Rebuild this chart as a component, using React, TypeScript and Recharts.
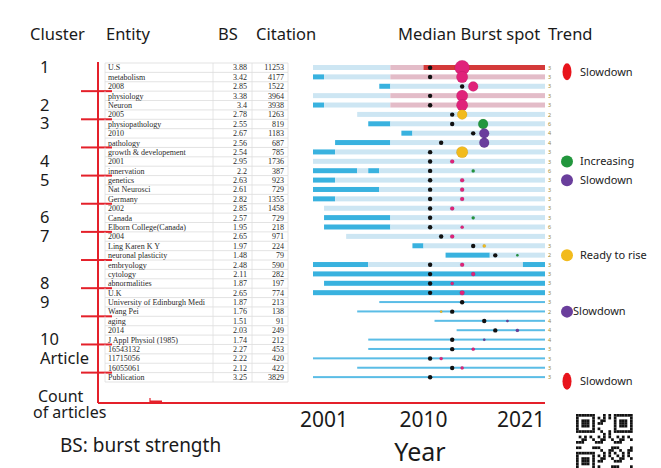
import React from 'react';
import { ComposedChart, Bar, Line, XAxis, YAxis } from 'recharts';

// table rows (top to bottom)
const entities = [
  'U.S', 'metabolism', '2008', 'physiology', 'Neuron', '2005', 'physiopathology', '2010', 'pathology',
  'growth & developement', '2001', 'innervation', 'genetics', 'Nat Neurosci', 'Germany', '2002', 'Canada',
  'Elborn College(Canada)', '2004', 'Ling Karen K Y', 'neuronal plasticity', 'embryology', 'cytology',
  'abnormalities', 'U.K', 'University of Edinburgh Medi', 'Wang Pei', 'aging', '2014', 'J Appl Physiol (1985)',
  '16543132', '11715056', '16055061', 'Publication',
];
const burstStrength = [
  3.88, 3.42, 2.85, 3.38, 3.4, 2.78, 2.55, 2.67, 2.56, 2.54, 2.95, 2.2, 2.63, 2.61, 2.82, 2.85, 2.57,
  1.95, 2.65, 1.97, 1.48, 2.48, 2.11, 1.87, 2.65, 1.87, 1.76, 1.51, 2.03, 1.74, 2.27, 2.22, 2.12, 3.25,
];
const citations = [
  11253, 4177, 1522, 3964, 3938, 1263, 819, 1183, 687, 785, 1736, 387, 923, 729, 1355, 1458, 729,
  218, 971, 224, 79, 590, 282, 197, 774, 213, 138, 91, 249, 212, 453, 420, 422, 3829,
];

// timeline per row
const spanStart = [
  2000, 2000, 2006, 2000, 2000, 2004, 2005, 2008, 2002, 2000, 2000, 2000, 2000, 2000, 2000, 2001, 2001,
  2001, 2003, 2009, 2012, 2000, 2000, 2001, 2000, 2006, 2004, 2011, 2013, 2005, 2005, 2000, 2004, 2000,
];
const burstPeriods: [number, number][][] = [
  [], [[2000, 2001]], [[2006, 2007]], [], [[2000, 2001]], [], [[2005, 2007]], [[2008, 2009]], [[2002, 2007]],
  [[2000, 2002]], [], [[2000, 2004], [2005, 2006]], [[2000, 2002]], [[2000, 2006]], [[2000, 2002]], [],
  [[2001, 2007]], [[2001, 2007]], [], [[2009, 2010]], [[2012, 2016]], [[2000, 2005], [2019, 2021]],
  [[2000, 2021]], [[2001, 2021]], [[2000, 2021]], [], [], [], [], [], [], [], [], [],
];
const tintFrom = [2007, 2007, null, 2007, 2007, null, null, null, null, null, null, null, null, null, null, null, null,
  null, null, null, null, null, null, null, null, null, null, null, null, null, null, null, null, null];
const hotFrom = [2010, null, null, null, null, null, null, null, null, null, null, null, null, null, null, null, null,
  null, null, null, null, null, null, null, null, null, null, null, null, null, null, null, null, null];
const lineOnly = [
  false, false, false, false, false, false, false, false, false, false, false, false, false, false, false, false, false,
  false, false, false, false, false, false, false, false, true, true, true, true, true, true, true, true, true,
];
const medianYear = [
  2010.6, 2010.6, 2013.5, 2010.6, 2010.6, 2012.6, 2012.6, 2014.5, 2011.6, 2010.6, 2010.6, 2010.6, 2010.6, 2010.6,
  2010.6, 2010.6, 2010.6, 2010.6, 2011.6, 2014.5, 2016.5, 2010.6, 2010.6, 2010.6, 2010.6, 2013.5, 2012.6, 2015.5,
  2016.5, 2012.6, 2012.6, 2010.6, 2012.6, 2010.6,
];
const spotYear = [
  2013.5, 2013.5, 2014.5, 2013.5, 2013.5, 2013.5, 2015.4, 2015.5, 2015.5, 2013.5, 2012.6, 2014.5, 2013.5, 2013.5,
  2013.5, 2012.6, 2014.5, 2013.5, 2012.6, 2015.5, 2018.5, 2013.5, 2014.5, 2012.6, 2013.5, 2013.5, 2011.6, 2017.6,
  2018.5, 2015.5, 2014.5, 2011.6, 2013.5, null,
];
const spotTrend = [
  'slow', 'slow', 'slow', 'slow', 'slow', 'rise', 'up', 'wane', 'wane', 'rise', 'slow', 'up', 'slow', 'slow',
  'slow', 'slow', 'up', 'slow', 'slow', 'rise', 'up', 'slow', 'slow', 'slow', 'slow', 'slow', 'rise', 'wane',
  'wane', 'wane', 'slow', 'slow', 'slow', null,
];
const spotWeight = [
  9, 7, 6, 7, 7, 6, 6, 6, 6, 7, 2.5, 2, 2.5, 2.5, 2.5, 2.5, 2, 2, 2.5, 2, 1.5, 2.5, 2.5, 2, 3, 2, 1.5, 1.5,
  2, 1.5, 2, 2, 2, 0,
];
const sliceMarks = [3, 3, 3, 3, 3, 2, 6, 4, 4, 3, 3, 6, 3, 3, 3, 3, 3, 6, 3, 3, 2, 3, 3, 3, 3, 3, 2, 4, 4, 4, 3, 3, 3, 3];

const clusters = [
  { name: '1', first: 0, last: 2, labelRow: 0 },
  { name: '2', first: 3, last: 5, labelRow: 4 },
  { name: '3', first: 6, last: 8, labelRow: 6 },
  { name: '4', first: 9, last: 11, labelRow: 10 },
  { name: '5', first: 12, last: 14, labelRow: 12 },
  { name: '6', first: 15, last: 17, labelRow: 16 },
  { name: '7', first: 18, last: 20, labelRow: 18 },
  { name: '8', first: 21, last: 23, labelRow: 23 },
  { name: '9', first: 24, last: 26, labelRow: 25 },
  { name: '10', first: 27, last: 29, labelRow: 29 },
  { name: 'Article', first: 30, last: 32, labelRow: 31 },
];
const trendLegend = [
  { row: 0, trend: 'hot', text: 'Slowdown' },
  { row: 10, trend: 'up', text: 'Increasing' },
  { row: 12, trend: 'wane', text: 'Slowdown' },
  { row: 20, trend: 'rise', text: 'Ready to rise' },
  { row: 26, trend: 'wane', text: 'Slowdown' },
  { row: 33, trend: 'hot', text: 'Slowdown' },
];

const yearDomain = [2000, 2021];
const yearTicks = [2001, 2010, 2021];

const CHART_W = 661;
const CHART_H = 468;
const MARGIN = { top: 63, right: 116, bottom: 20, left: 0 };
const Y_AXIS_W = 313;
const X_AXIS_H = 45;
const PAD_BOTTOM = 21;
const PLOT_LEFT = MARGIN.left + Y_AXIS_W;
const PLOT_BOTTOM = CHART_H - MARGIN.bottom - X_AXIS_H;
const ROW_H = (PLOT_BOTTOM - MARGIN.top - PAD_BOTTOM) / entities.length;
const RED = '#e4202a';
const SANS = '"Noto Sans", "Open Sans", sans-serif';

const segColor = { base: '#cde6f3', burst: '#39b2df', tint: '#e3bcc8', hot: '#d43a3a' };
const trendColor = { slow: '#e0237a', rise: '#f2bb1d', up: '#22963d', wane: '#6a3e9c', hot: '#e8141c' };

function segmentsFor(i: number) {
  const end = yearDomain[1];
  const pts = new Set<number>([spanStart[i], end]);
  burstPeriods[i].forEach(([a, b]) => { pts.add(a); pts.add(b); });
  if (tintFrom[i] != null) pts.add(tintFrom[i] as number);
  if (hotFrom[i] != null) pts.add(hotFrom[i] as number);
  const sorted = [...pts].filter((p) => p >= spanStart[i] && p <= end).sort((a, b) => a - b);
  const segs: { len: number; kind: string }[] = [];
  for (let k = 0; k < sorted.length - 1; k++) {
    const a = sorted[k];
    const b = sorted[k + 1];
    const mid = (a + b) / 2;
    let kind = 'base';
    if (burstPeriods[i].some(([s, e]) => mid > s && mid < e)) kind = 'burst';
    else if (hotFrom[i] != null && mid > (hotFrom[i] as number)) kind = 'hot';
    else if (tintFrom[i] != null && mid > (tintFrom[i] as number)) kind = 'tint';
    segs.push({ len: b - a, kind });
  }
  return segs;
}

const allSegs = entities.map((_, i) => segmentsFor(i));
const MAX_SEGS = Math.max(...allSegs.map((s) => s.length));
const segKeys = Array.from({ length: MAX_SEGS }, (_, j) => j);

const rows = entities.map((entity, i) => {
  const row: any = {
    entity,
    lead: spanStart[i],
    median: medianYear[i],
    spot: spotYear[i],
    trend: spotTrend[i],
    weight: spotWeight[i],
    lineOnly: lineOnly[i],
  };
  allSegs[i].forEach((s, j) => {
    row[`s${j}`] = s.len;
    row[`k${j}`] = s.kind;
  });
  return row;
});

const renderSeg = (j: number) => (p: any) => {
  const { x, y, width, height, payload } = p;
  if (!width || width <= 0 || payload[`s${j}`] == null) return <g />;
  if (payload.lineOnly) {
    return <rect x={x} y={y + height / 2 - 1} width={width} height={2} fill="#5bbde6" />;
  }
  return <rect x={x} y={y} width={width} height={height} fill={segColor[payload[`k${j}`]]} />;
};

const renderSpot = (p: any) => {
  const { cx, cy, payload, index } = p;
  if (payload.spot == null || cx == null || cy == null) return <g key={`s${index}`} />;
  return (
    <circle key={`s${index}`} cx={cx} cy={cy} r={payload.weight * 0.82}
      fill={trendColor[payload.trend]} stroke="rgba(0,0,0,0.15)" strokeWidth={0.5} />
  );
};

const renderMedian = (p: any) => {
  const { cx, cy, index } = p;
  if (cx == null || cy == null) return <g key={`m${index}`} />;
  return <circle key={`m${index}`} cx={cx} cy={cy} r={2.2} fill="#111" />;
};

function RowTick(props: any) {
  const { y, payload } = props;
  const i = entities.indexOf(payload.value);
  const last = entities.length - 1;
  const top = y - ROW_H / 2;
  const bot = y + ROW_H / 2;
  const cl = clusters.find((c) => c.labelRow === i);
  const boundary = clusters.find((c) => c.last === i);
  const legend = trendLegend.find((t) => t.row === i);
  return (
    <g>
      {i === 0 && <line x1={105} x2={288} y1={top} y2={top} stroke="#dcdcdc" strokeWidth={0.8} />}
      <line x1={105} x2={288} y1={bot} y2={bot} stroke="#dcdcdc" strokeWidth={0.8} />
      {[105, 213, 252, 288].map((cx) => (
        <line key={cx} x1={cx} x2={cx} y1={top} y2={bot} stroke="#e0e0e0" strokeWidth={0.8} />
      ))}
      <text x={108} y={y + 2.8} fontSize={8} fontFamily='"Liberation Serif", serif' fill="#2a2a2a">
        {entities[i]}
      </text>
      <text x={247} y={y + 2.8} fontSize={8} textAnchor="end" fontFamily='"Liberation Serif", serif' fill="#2a2a2a">
        {String(burstStrength[i])}
      </text>
      <text x={284} y={y + 2.8} fontSize={8} textAnchor="end" fontFamily='"Liberation Serif", serif' fill="#2a2a2a">
        {String(citations[i])}
      </text>

      <line x1={98} x2={98} y1={i === 0 ? top - 1 : top - 0.5} y2={i === last ? PLOT_BOTTOM : bot + 0.5} stroke={RED} strokeWidth={2} />
      {boundary && <line x1={81} x2={112} y1={bot} y2={bot} stroke={RED} strokeWidth={2} />}
      {i === last && (
        <g>
          <line x1={98} x2={PLOT_LEFT} y1={PLOT_BOTTOM} y2={PLOT_BOTTOM} stroke={RED} strokeWidth={1.8} />
          <line x1={150} x2={150} y1={398} y2={PLOT_BOTTOM} stroke={RED} strokeWidth={1.2} />
          <line x1={150} x2={162} y1={401.5} y2={401.5} stroke={RED} strokeWidth={2} />
          <text x={38} y={402} fontSize={16} fontFamily={SANS} fill="#1a1a1a">Count</text>
          <text x={33} y={418} fontSize={16} fontFamily={SANS} fill="#1a1a1a">of articles</text>
        </g>
      )}
      {cl && (
        <text x={40} y={y + 5.5} fontSize={16.5} fontFamily={SANS} fill="#1a1a1a">{cl.name}</text>
      )}

      <text x={548} y={y + 2} fontSize={5.5} fontFamily={SANS} fill="#9a8630">{sliceMarks[i]}</text>

      {legend && (
        <g>
          {legend.trend === 'hot' ? (
            <ellipse cx={567} cy={y + 4} rx={4.5} ry={8.5} fill={trendColor.hot} />
          ) : (
            <circle cx={567} cy={y} r={6} fill={trendColor[legend.trend]} />
          )}
          <text x={legend.trend === 'wane' && i > 20 ? 573 : 580} y={legend.trend === 'hot' ? y + 8 : y + 3.5}
            fontSize={11} fontFamily={SANS} fill="#222">{legend.text}</text>
        </g>
      )}
    </g>
  );
}

function YearTick(props: any) {
  const { x, y, payload } = props;
  const isLast = payload.value === yearTicks[yearTicks.length - 1];
  return (
    <text x={x} y={y + 16} textAnchor={isLast ? 'end' : 'middle'} fontSize={21} fontFamily={SANS} fill="#1a1a1a">
      {payload.value}
    </text>
  );
}

function QrMark() {
  const n = 21;
  const m = 2.7;
  const cells: JSX.Element[] = [];
  const finder = (r: number, c: number) => {
    for (const [r0, c0] of [[0, 0], [0, 14], [14, 0]]) {
      if (r >= r0 && r < r0 + 7 && c >= c0 && c < c0 + 7) {
        const rr = r - r0;
        const cc = c - c0;
        return rr === 0 || rr === 6 || cc === 0 || cc === 6 || (rr >= 2 && rr <= 4 && cc >= 2 && cc <= 4) ? 1 : 0;
      }
      if (r >= r0 - 1 && r <= r0 + 7 && c >= c0 - 1 && c <= c0 + 7) return 0;
    }
    return ((r * 31 + c * 17 + r * c) % 7) < 3 ? 1 : 0;
  };
  for (let r = 0; r < n; r++) {
    for (let c = 0; c < n; c++) {
      if (finder(r, c)) cells.push(<rect key={`${r}-${c}`} x={576 + c * m} y={414 + r * m} width={m} height={m} fill="#111" />);
    }
  }
  return <g>{cells}</g>;
}

export default function App() {
  return (
    <div style={{ position: 'absolute', left: 0, top: 0, width: CHART_W, height: CHART_H, background: '#fff' }}>
      <ComposedChart layout="vertical" width={CHART_W} height={CHART_H} data={rows} margin={MARGIN} barSize={5}>
        <XAxis type="number" domain={yearDomain} allowDataOverflow ticks={yearTicks} interval={0}
          height={X_AXIS_H} tickLine={false} axisLine={{ stroke: RED, strokeWidth: 1.8 }} tick={<YearTick />} />
        <YAxis type="category" dataKey="entity" width={Y_AXIS_W} interval={0} axisLine={false} tickLine={false}
          padding={{ top: 0, bottom: PAD_BOTTOM }} tick={<RowTick />} />
        <Bar dataKey="lead" stackId="t" fill="none" isAnimationActive={false} />
        {segKeys.map((j) => (
          <Bar key={j} dataKey={`s${j}`} stackId="t" isAnimationActive={false} shape={renderSeg(j)} />
        ))}
        <Line dataKey="spot" stroke="none" dot={renderSpot} activeDot={false} isAnimationActive={false} />
        <Line dataKey="median" stroke="none" dot={renderMedian} activeDot={false} isAnimationActive={false} />
      </ComposedChart>
      <svg width={CHART_W} height={CHART_H} style={{ position: 'absolute', left: 0, top: 0, pointerEvents: 'none' }}>
        <g fontFamily={SANS} fill="#1a1a1a" fontSize={16.5}>
          <text x={30} y={40}>Cluster</text>
          <text x={106} y={40}>Entity</text>
          <text x={218} y={40}>BS</text>
          <text x={256} y={40}>Citation</text>
          <text x={398} y={40}>Median Burst spot</text>
          <text x={548} y={40}>Trend</text>
          <text x={60} y={452} fontSize={19}>BS: burst strength</text>
          <text x={420} y={461} fontSize={25} textAnchor="middle">Year</text>
        </g>
        <QrMark />
      </svg>
    </div>
  );
}
